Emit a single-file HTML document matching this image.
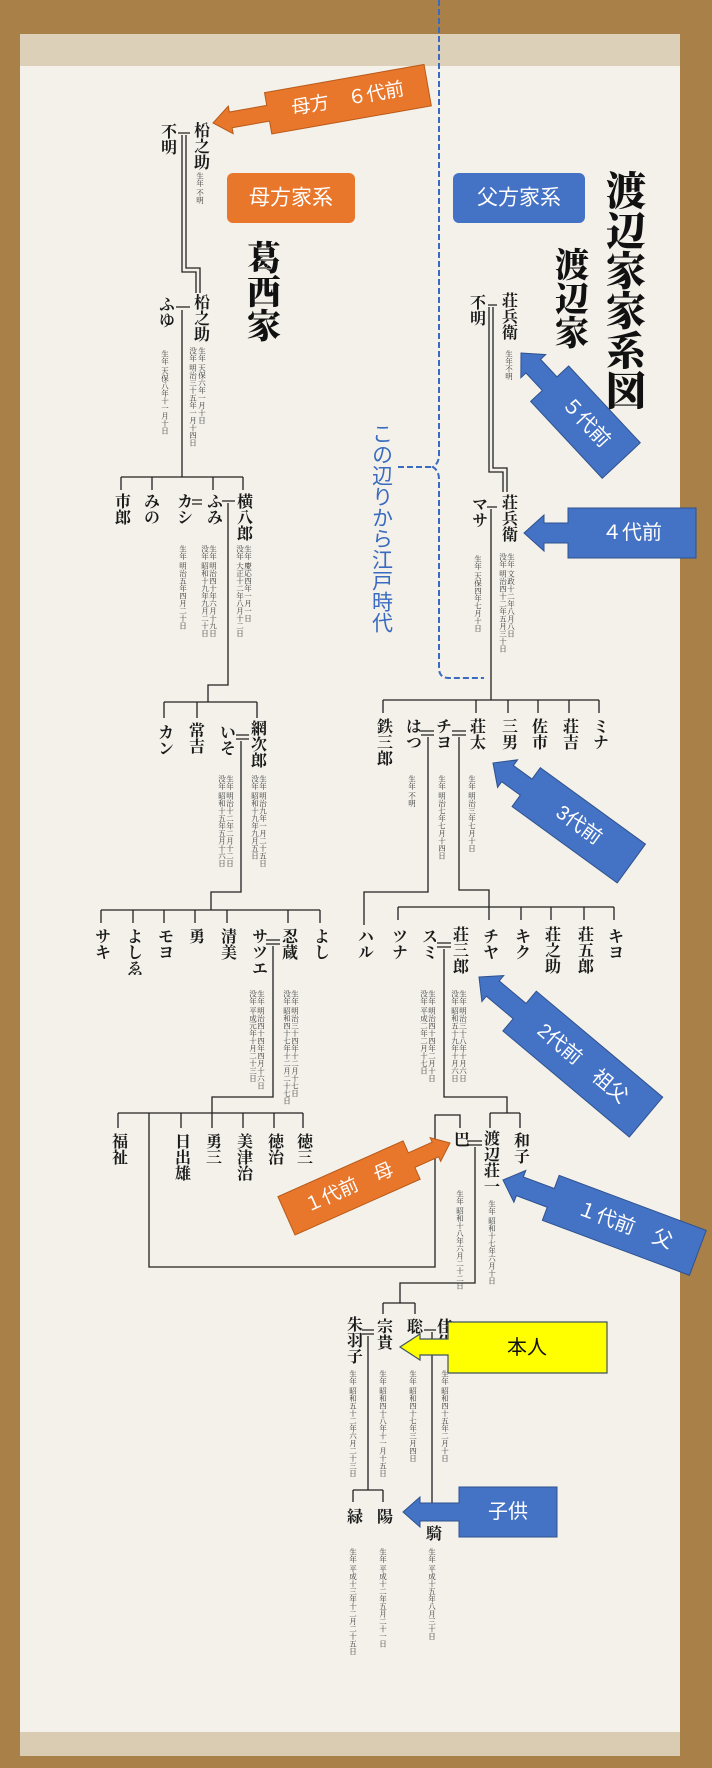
<!DOCTYPE html>
<html><head><meta charset="utf-8">
<style>
html,body{margin:0;padding:0;background:#a88048;}
svg{display:block}
.n{font-family:"Liberation Serif","Noto Serif CJK JP","Noto Serif CJK SC",serif;font-size:16px;fill:#1a1a1a;writing-mode:vertical-rl;font-weight:bold}
.d{font-family:"Liberation Serif","Noto Serif CJK JP","Noto Serif CJK SC",serif;font-size:7.5px;fill:#333;writing-mode:vertical-rl}
.big{font-family:"Liberation Serif","Noto Serif CJK JP","Noto Serif CJK SC",serif;fill:#111;writing-mode:vertical-rl;font-weight:900}
.w{font-family:"Liberation Sans","Noto Sans CJK JP",sans-serif;fill:#fff;text-anchor:middle;dominant-baseline:central}
.l{fill:none;stroke:#222;stroke-width:1.3}
</style></head>
<body>
<svg width="712" height="1768" viewBox="0 0 712 1768" xmlns="http://www.w3.org/2000/svg">
<rect x="0" y="0" width="712" height="1768" fill="#a88048"/>
<rect x="20" y="34" width="660" height="32" fill="#dcd0b8"/>
<rect x="20" y="66" width="660" height="1666" fill="#f3f1ea"/>
<rect x="20" y="1732" width="660" height="24" fill="#d9ccb2"/>

<!-- dashed blue -->
<path d="M439 0 V455 Q439 463 433 467 Q439 471 439 479 V668 Q439 678 449 678 H484" fill="none" stroke="#3a6bc0" stroke-width="2" stroke-dasharray="6 3"/>
<path d="M398 467 H433" stroke="#3a6bc0" stroke-width="2" stroke-dasharray="6 3"/>
<text x="381" y="423" style="writing-mode:vertical-rl;font-family:'Liberation Sans','Noto Sans CJK JP',sans-serif;font-size:21px;fill:#3a6bc0">この辺りから江戸時代</text>

<!-- titles -->
<text class="big" x="623" y="170" style="font-size:40px">渡辺家家系図</text>
<text class="big" x="568" y="247" style="font-size:34px">渡辺家</text>
<text class="big" x="260" y="240" style="font-size:34px">葛西家</text>

<rect x="227" y="173" width="128" height="50" rx="6" fill="#e8772b"/>
<text class="w" x="291" y="198" style="font-size:21px">母方家系</text>
<rect x="453" y="173" width="132" height="50" rx="6" fill="#4472c4"/>
<text class="w" x="519" y="198" style="font-size:21px">父方家系</text>

<!-- tree lines -->
<g class="l">
<path d="M178 133H190M182 135V272H196V293M186 135V268H200V293"/>
<path d="M176 307H190M182 310V477"/>
<path d="M121 477H243M121 477V490M152 477V490M213 477V490M243 477V490"/>
<path d="M192 500H202M192 504H202M222 501H235M228 503V685H208V702"/>
<path d="M164 702H257M164 702V718M197 702V718M257 702V718"/>
<path d="M236 735H249M236 739H249M241 741V892H211V910"/>
<path d="M101 910H320M101 910V923M133 910V923M164 910V923M195 910V923M227 910V923M288 910V923M320 910V923"/>
<path d="M266 940H280M266 944H280M273 946V1097H212V1128"/>
<path d="M118 1113H303M118 1113V1128M181 1113V1128M243 1113V1128M274 1113V1128M303 1113V1128"/>
<path d="M149 1113V1267H435V1115H460V1128"/>
<path d="M488 305H497M489 307V472H503V492M493 307V468H507V492"/>
<path d="M487 507H497M491 509V700"/>
<path d="M383 700H599M383 700V713M476 700V713M508 700V713M538 700V713M569 700V713M599 700V713"/>
<path d="M421 731H434M421 735H434M428 737V892H364V925"/>
<path d="M452 731H466M452 735H466M459 737V890H489V920"/>
<path d="M398 907H614M398 907V920M521 907V920M551 907V920M584 907V920M614 907V920"/>
<path d="M437 943H451M437 947H451M444 949V1097H507V1113"/>
<path d="M490 1113H520M490 1113V1128M520 1113V1128"/>
<path d="M467 1141H482M467 1145H482M475 1147V1283H400V1303"/>
<path d="M383 1303H415M383 1303V1314M415 1303V1314"/>
<path d="M362 1330H374M362 1334H374M368 1336V1490"/>
<path d="M353 1490H383M353 1490V1502M383 1490V1502"/>
<path d="M424 1330H436M432 1332V1520"/>
</g>

<!-- names -->
<g class="n">
<text x="167" y="123">不明</text><text x="200" y="122">柗之助</text>
<text x="165" y="296">ふゆ</text><text x="200" y="294">柗之助</text>
<text x="121" y="493">市郎</text><text x="150" y="493">みの</text><text x="183" y="493">カシ</text><text x="213" y="493">ふみ</text><text x="243" y="493">横八郎</text>
<text x="164" y="724">カン</text><text x="195" y="722">常吉</text><text x="226" y="724">いそ</text><text x="257" y="720">網次郎</text>
<text x="101" y="928">サキ</text><text x="133" y="928">よしゑ</text><text x="164" y="928">モヨ</text><text x="195" y="928">勇</text><text x="227" y="928">清美</text><text x="258" y="928">サツエ</text><text x="288" y="928">忍蔵</text><text x="320" y="928">よし</text>
<text x="118" y="1133">福祉</text><text x="181" y="1133">日出雄</text><text x="212" y="1133">勇三</text><text x="243" y="1133">美津治</text><text x="274" y="1133">徳治</text><text x="303" y="1133">徳三</text>
<text x="476" y="294">不明</text><text x="508" y="292">荘兵衛</text>
<text x="478" y="496">マサ</text><text x="508" y="494">荘兵衛</text>
<text x="383" y="718">鉄三郎</text><text x="412" y="718">はつ</text><text x="442" y="718">チヨ</text><text x="476" y="718">荘太</text><text x="508" y="718">三男</text><text x="538" y="718">佐市</text><text x="569" y="718">荘吉</text><text x="599" y="718">ミナ</text>
<text x="364" y="928">ハル</text><text x="398" y="928">ツナ</text><text x="428" y="928">スミ</text><text x="459" y="926">荘三郎</text><text x="489" y="928">チヤ</text><text x="521" y="928">キク</text><text x="551" y="926">荘之助</text><text x="584" y="926">荘五郎</text><text x="614" y="928">キヨ</text>
<text x="460" y="1131">巴</text><text x="490" y="1130">渡辺荘一</text><text x="520" y="1132">和子</text>
<text x="353" y="1316">朱羽子</text><text x="383" y="1318">宗貴</text><text x="413" y="1318">聡</text><text x="443" y="1318">佳代</text>
<text x="353" y="1508">緑</text><text x="383" y="1508">陽</text><text x="432" y="1525">騎</text>
</g>

<!-- dates -->
<g class="d">
<text x="200" y="172">生年 不明</text>
<text x="165" y="350">生年 天保八年十一月十日</text><text x="193" y="347">没年 明治三十五年一月十四日</text><text x="202" y="347">生年 天保六年一月十日</text>
<text x="183" y="545">生年 明治五年四月二十日</text><text x="205" y="545">没年 昭和十九年九月二十日</text><text x="213" y="545">生年 明治四十年六月十九日</text><text x="240" y="545">没年 大正十二年八月十二日</text><text x="248" y="545">生年 慶応四年一月一日</text>
<text x="222" y="775">没年 昭和十五年五月十六日</text><text x="230" y="775">生年 明治十二年二月十二日</text><text x="255" y="775">没年 昭和十九年九月五日</text><text x="263" y="775">生年 明治九年一月二十五日</text>
<text x="253" y="990">没年 平成元年十月二十三日</text><text x="261" y="990">生年 明治四十四年四月十六日</text><text x="287" y="990">没年 昭和四十七年十二月二十七日</text><text x="295" y="990">生年 明治三十四年十二月十七日</text>
<text x="509" y="350">生年不明</text>
<text x="478" y="555">生年 天保四年七月十日</text><text x="503" y="553">没年 明治四十二年五月三十日</text><text x="511" y="553">生年 文政十二年八月八日</text>
<text x="412" y="775">生年 不明</text><text x="442" y="775">生年 明治七年七月十四日</text><text x="472" y="775">生年 明治三年七月十日</text>
<text x="424" y="990">没年 平成二年二月十七日</text><text x="432" y="990">生年 明治四十四年二月十日</text><text x="455" y="990">没年 昭和五十九年十月六日</text><text x="463" y="990">生年 明治三十八年十月六日</text>
<text x="460" y="1190">生年 昭和十八年六月二十二日</text><text x="492" y="1200">生年 昭和十七年六月十日</text>
<text x="353" y="1370">生年 昭和五十二年六月二十三日</text><text x="383" y="1370">生年 昭和四十八年十一月十五日</text><text x="413" y="1370">生年 昭和四十七年三月四日</text><text x="445" y="1370">生年 昭和四十五年二月十日</text>
<text x="353" y="1548">生年 平成十三年十二月二十五日</text><text x="383" y="1548">生年 平成十二年五月二十一日</text><text x="432" y="1548">生年 平成十五年八月三十日</text>
</g>

<!-- callout arrows: tip at origin, pointing left, box to the right -->
<!-- 母方 6代前 -->
<g transform="translate(213,123) rotate(-10)">
<path d="M0 0 L18 -14 L18 -8 L56 -8 L56 -21 L218 -21 L218 21 L56 21 L56 8 L18 8 L18 14 Z" fill="#e8772b" stroke="#b85a1a" stroke-width="1"/>
<text class="w" x="137" y="0" style="font-size:19px">母方　６代前</text>
</g>
<!-- 5代前 -->
<g transform="translate(521,353) rotate(47)">
<path d="M0 0 L18 -17 L18 -10 L42 -10 L42 -26 L147 -26 L147 26 L42 26 L42 10 L18 10 L18 17 Z" fill="#4472c4" stroke="#2f528f" stroke-width="1"/>
<text class="w" x="95" y="0" style="font-size:20px">５代前</text>
</g>
<!-- 4代前 -->
<g transform="translate(524,533)">
<path d="M0 0 L20 -18 L20 -10 L44 -10 L44 -25 L172 -25 L172 25 L44 25 L44 10 L20 10 L20 18 Z" fill="#4472c4" stroke="#2f528f" stroke-width="1"/>
<text class="w" x="108" y="0" style="font-size:20px">４代前</text>
</g>
<!-- 3代前 -->
<g transform="translate(493,763) rotate(36)">
<path d="M0 0 L18 -17 L18 -10 L41 -10 L41 -24 L171 -24 L171 24 L41 24 L41 10 L18 10 L18 17 Z" fill="#4472c4" stroke="#2f528f" stroke-width="1"/>
<text class="w" x="106" y="0" style="font-size:20px">3代前</text>
</g>
<!-- 2代前 祖父 -->
<g transform="translate(479,977) rotate(40)">
<path d="M0 0 L18 -17 L18 -10 L53 -10 L53 -26 L218 -26 L218 26 L53 26 L53 10 L18 10 L18 17 Z" fill="#4472c4" stroke="#2f528f" stroke-width="1"/>
<text class="w" x="135" y="0" style="font-size:20px">2代前　祖父</text>
</g>
<!-- 1代前 母 -->
<g transform="translate(450,1143) rotate(156)">
<path d="M0 0 L16 -13 L16 -8 L42 -8 L42 -21 L179 -21 L179 21 L42 21 L42 8 L16 8 L16 13 Z" fill="#e8772b" stroke="#b85a1a" stroke-width="1"/>
</g>
<text class="w" x="349" y="1188" transform="rotate(-24 349 1188)" style="font-size:19px">１代前　母</text>
<!-- 1代前 父 -->
<g transform="translate(503,1180) rotate(20.5)">
<path d="M0 0 L18 -17 L18 -10 L51 -10 L51 -24 L208 -24 L208 24 L51 24 L51 10 L18 10 L18 17 Z" fill="#4472c4" stroke="#2f528f" stroke-width="1"/>
<text class="w" x="130" y="0" style="font-size:20px">１代前　父</text>
</g>
<!-- 本人 -->
<path d="M400 1347 L420 1334 L420 1339 L448 1339 L448 1322 L607 1322 L607 1373 L448 1373 L448 1355 L420 1355 L420 1360 Z" fill="#ffff00" stroke="#3f5360" stroke-width="1.2"/>
<text x="527" y="1348" style="font-family:'Liberation Sans','Noto Sans CJK JP',sans-serif;font-size:20px;fill:#111;text-anchor:middle;dominant-baseline:central">本人</text>
<!-- 子供 -->
<path d="M403 1512 L420 1497 L420 1503 L459 1503 L459 1487 L557 1487 L557 1537 L459 1537 L459 1521 L420 1521 L420 1527 Z" fill="#4472c4" stroke="#2f528f" stroke-width="1"/>
<text class="w" x="508" y="1512" style="font-size:20px">子供</text>
</svg>
</body></html>
